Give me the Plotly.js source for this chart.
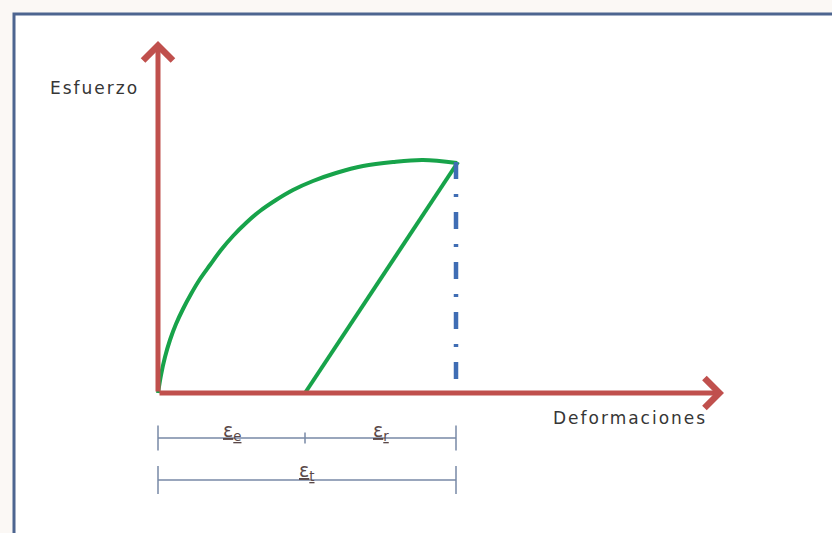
<!DOCTYPE html>
<html>
<head>
<meta charset="utf-8">
<script src="https://cdn.plot.ly/plotly-3.0.1.min.js"></script>
<style>
  html, body { margin: 0; padding: 0; background: #fbf8f5; }
  #grafico { width: 832px; height: 533px; }
  /* rotulos de los ejes un poco espaciados, como en el original */
  .annotation[data-index="2"] text, .annotation[data-index="3"] text { letter-spacing: 2px; }
</style>
</head>
<body>
<div id="grafico"></div>
<script>
// curva esfuerzo-deformacion (carga)
var curvaX = [0, 3, 7, 12, 18, 25, 33, 42, 52, 63, 75, 88, 102, 118, 135, 155, 178, 205, 235, 265, 299];
var curvaY = [0, 18, 36, 53, 69, 84, 99, 114, 128, 143, 157, 170, 182, 193, 203, 212, 220, 227, 231, 233, 230];

// descarga (recta) y deformacion total
var descargaX = [147, 300];
var descargaY = [0, 231];
var verticalX = [298, 298];
var verticalY = [231, 0];

// limites de las deformaciones
var epsE = [0, 147];
var epsR = [147, 298];
var epsT = [0, 298];
var etiquetas = ["ε<sub>e</sub>", "ε<sub>r</sub>", "ε<sub>t</sub>"];

// ejes
var ejeX = [0, 566];
var ejeY = [0, 352];

function mitad(a){ return (a[0] + a[1]) / 2; }

var rojo = "#c0504d";
var gris = "#7788a6";

var data = [
  {x: curvaX, y: curvaY, mode: "lines", line: {color: "#17a34a", width: 4, shape: "spline", smoothing: 1}, hoverinfo: "skip"},
  {x: descargaX, y: descargaY, mode: "lines", line: {color: "#17a34a", width: 4}, hoverinfo: "skip"},
  {x: verticalX, y: verticalY, mode: "lines", line: {color: "#3f6db4", width: 4.5, dash: "17px,15px,3px,15px"}, hoverinfo: "skip"},
  // cotas
  {x: [epsE[0], epsR[1]], y: [-45, -45], mode: "lines", line: {color: gris, width: 1.5}, hoverinfo: "skip"},
  {x: [epsE[0], epsR[1]], y: [-45, -45], mode: "markers",
   marker: {symbol: "line-ns", size: 18, line: {color: gris, width: 1.5}}, hoverinfo: "skip"},
  {x: [epsE[1]], y: [-45], mode: "markers",
   marker: {symbol: "line-ns", size: 8, line: {color: gris, width: 1.5}}, hoverinfo: "skip"},
  {x: epsT, y: [-87, -87], mode: "lines+markers", line: {color: gris, width: 1.5},
   marker: {symbol: "line-ns", size: 20, line: {color: gris, width: 1.5}}, hoverinfo: "skip"}
];

function etiqueta(txt, x, y){
  return {x: x, y: y, xref: "x", yref: "y", showarrow: false,
    text: "<span style='text-decoration:underline'>" + txt + "</span>",
    font: {family: "DejaVu Sans", size: 19, color: "#5a4848"}};
}

var layout = {
  width: 832, height: 533,
  margin: {l: 0, r: 0, t: 0, b: 0},
  paper_bgcolor: "#fbf8f5",
  plot_bgcolor: "rgba(0,0,0,0)",
  showlegend: false,
  xaxis: {range: [-158, 674], visible: false, fixedrange: true},
  yaxis: {range: [-140, 393], visible: false, fixedrange: true},
  shapes: [
    {type: "rect", xref: "paper", yref: "paper", x0: 14/832, x1: 1.05, y0: -0.05, y1: 1 - 14/533,
     fillcolor: "#ffffff", line: {color: "#4d6590", width: 3}, layer: "below"}
  ],
  annotations: [
    {x: ejeX[1], y: 0, ax: 0, ay: 0, xref: "x", yref: "y", axref: "x", ayref: "y",
     showarrow: true, arrowhead: 4, arrowsize: 1.15, arrowwidth: 5, arrowcolor: rojo, text: ""},
    {x: 0, y: ejeY[1], ax: 0, ay: 0, xref: "x", yref: "y", axref: "x", ayref: "y",
     showarrow: true, arrowhead: 4, arrowsize: 1.15, arrowwidth: 5, arrowcolor: rojo, text: ""},
    {x: -64, y: 305, xref: "x", yref: "y", showarrow: false, text: "Esfuerzo",
     font: {family: "DejaVu Sans", size: 17, color: "#363636"}},
    {x: 472, y: -25, xref: "x", yref: "y", showarrow: false, text: "Deformaciones",
     font: {family: "DejaVu Sans", size: 17, color: "#363636"}},
    etiqueta(etiquetas[0], mitad(epsE), -38),
    etiqueta(etiquetas[1], mitad(epsR), -38),
    etiqueta(etiquetas[2], mitad(epsT), -78)
  ]
};

Plotly.newPlot("grafico", data, layout, {displayModeBar: false, staticPlot: true});
</script>
</body>
</html>
